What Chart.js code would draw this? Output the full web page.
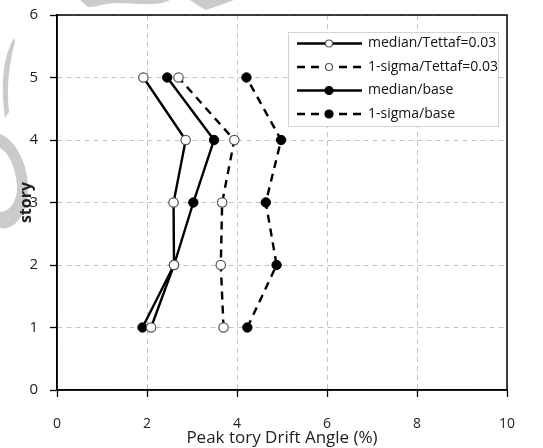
<!DOCTYPE html>
<html>
<head>
<meta charset="utf-8">
<script src="https://cdn.jsdelivr.net/npm/chart.js@4"></script>
<style>
  body { margin: 0; background: #fff; }
  #driftChart { display: block; }
</style>
</head>
<body>
<canvas id="driftChart" width="543" height="448"></canvas>
<script>
// Peak story drift angle per story, two cases (Tettaf = 0.03 and base)
const stories = [1, 2, 3, 4, 5];
const medianTettaf = [2.09, 2.6, 2.59, 2.86, 1.92];
const sigmaTettaf = [3.7, 3.64, 3.67, 3.94, 2.7];
const medianBase = [1.9, 2.6, 3.03, 3.49, 2.45];
const sigmaBase = [4.23, 4.88, 4.64, 4.98, 4.21];

const xTicks = [0, 2, 4, 6, 8, 10];
const yTicks = [0, 1, 2, 3, 4, 5, 6];

const FONT = "'Open Sans', 'DejaVu Sans', sans-serif";

function toPoints(values) {
  return stories.map((s, i) => ({ x: values[i], y: s }));
}

function series(label, values, dashed, filled) {
  return {
    label: label,
    data: toPoints(values),
    borderColor: "#000",
    borderWidth: 2.4,
    borderDash: dashed ? [8, 6] : [],
    pointRadius: 4.7,
    pointBorderWidth: filled ? 1 : 1.2,
    pointBackgroundColor: filled ? "#000" : "#fff",
    pointBorderColor: filled ? "#000" : "#555",
    showLine: true,
    tension: 0,
  };
}

// light grey swirls behind the plot
const backdrop = {
  id: "backdrop",
  beforeDraw(chart) {
    const ctx = chart.ctx;
    ctx.save();
    ctx.fillStyle = "#cbcbcb";
    // top wave
    ctx.beginPath();
    ctx.moveTo(80, 0);
    ctx.lineTo(170, 0);
    ctx.bezierCurveTo(160, 6, 140, 4, 120, 3);
    ctx.bezierCurveTo(105, 2, 95, 8, 88, 7);
    ctx.closePath();
    ctx.fill();
    // top wedge
    ctx.beginPath();
    ctx.moveTo(190, 0);
    ctx.lineTo(234, 0);
    ctx.quadraticCurveTo(218, 6, 206, 10);
    ctx.quadraticCurveTo(198, 6, 190, 0);
    ctx.fill();
    // left swoosh
    ctx.beginPath();
    ctx.moveTo(14, 38);
    ctx.bezierCurveTo(4, 55, 0, 80, 5, 118);
    ctx.lineTo(9, 112);
    ctx.bezierCurveTo(6, 85, 10, 60, 15, 42);
    ctx.closePath();
    ctx.fill();
    // left ring
    ctx.beginPath();
    ctx.moveTo(0, 134);
    ctx.bezierCurveTo(18, 140, 34, 175, 26, 205);
    ctx.bezierCurveTo(20, 225, 8, 230, 0, 228);
    ctx.lineTo(0, 212);
    ctx.bezierCurveTo(10, 212, 18, 200, 17, 185);
    ctx.bezierCurveTo(15, 165, 8, 152, 0, 148);
    ctx.closePath();
    ctx.fill();
    ctx.restore();
  },
};

// full frame around the plot area
const frame = {
  id: "frame",
  afterDatasetsDraw(chart) {
    const { ctx, chartArea: a } = chart;
    ctx.save();
    ctx.strokeStyle = "#000";
    ctx.lineWidth = 1.5;
    ctx.strokeRect(a.left, a.top, a.right - a.left, a.bottom - a.top);
    ctx.restore();
  },
};

// boxed legend inside the plot, line + marker per series
const insetLegend = {
  id: "insetLegend",
  afterDraw(chart) {
    const ctx = chart.ctx;
    const box = { x: 288, y: 32, w: 210, h: 94 };
    ctx.save();
    ctx.fillStyle = "#fff";
    ctx.fillRect(box.x, box.y, box.w, box.h);
    ctx.strokeStyle = "#d4d4d4";
    ctx.lineWidth = 1;
    ctx.strokeRect(box.x + 0.5, box.y + 0.5, box.w, box.h);

    chart.data.datasets.forEach((ds, i) => {
      const y = 43.5 + i * 23.5;
      ctx.strokeStyle = ds.borderColor;
      ctx.lineWidth = ds.borderWidth;
      ctx.setLineDash(ds.borderDash);
      ctx.beginPath();
      ctx.moveTo(297, y);
      ctx.lineTo(362, y);
      ctx.stroke();
      ctx.setLineDash([]);
      ctx.beginPath();
      ctx.arc(329, y, ds.pointBackgroundColor === "#000" ? 4 : 3.5, 0, Math.PI * 2);
      ctx.fillStyle = ds.pointBackgroundColor;
      ctx.fill();
      ctx.lineWidth = 1.2;
      ctx.strokeStyle = ds.pointBorderColor;
      ctx.stroke();
      ctx.fillStyle = "#111";
      ctx.font = "14px " + FONT;
      ctx.textBaseline = "middle";
      ctx.fillText(ds.label, 368, y);
    });
    ctx.restore();
  },
};

const gridStyle = {
  color: "#c4c4c4",
  lineWidth: 1,
  tickLength: 7,
  tickColor: "#000",
  tickWidth: 1.3,
  tickBorderDash: [],
};

new Chart(document.getElementById("driftChart"), {
  type: "line",
  data: {
    datasets: [
      series("median/Tettaf=0.03", medianTettaf, false, false),
      series("1-sigma/Tettaf=0.03", sigmaTettaf, true, false),
      series("median/base", medianBase, false, true),
      series("1-sigma/base", sigmaBase, true, true),
    ],
  },
  options: {
    responsive: false,
    devicePixelRatio: 1,
    animation: false,
    layout: { padding: { top: 15, right: 36, left: 0, bottom: 0 } },
    plugins: {
      legend: { display: false },
      tooltip: { enabled: false },
    },
    scales: {
      x: {
        type: "linear",
        position: "bottom",
        min: 0,
        max: 10,
        afterBuildTicks(scale) {
          scale.ticks = xTicks.map((v) => ({ value: v }));
        },
        afterFit(scale) {
          scale.height = 58;
          scale.paddingLeft = 0;
          scale.paddingRight = 0;
        },
        ticks: {
          padding: 19,
          color: "#222",
          font: { family: FONT, size: 14 },
        },
        grid: gridStyle,
        border: { color: "#000", width: 1.5, dash: [5, 4] },
        title: {
          display: true,
          text: "Peak tory Drift Angle (%)",
          color: "#222",
          font: { family: FONT, size: 17 },
          padding: { top: 0, bottom: 0 },
        },
      },
      y: {
        type: "linear",
        min: 0,
        max: 6,
        afterBuildTicks(scale) {
          scale.ticks = yTicks.map((v) => ({ value: v }));
        },
        afterFit(scale) {
          scale.width = 57;
          scale.paddingTop = 0;
          scale.paddingBottom = 0;
        },
        ticks: {
          padding: 12,
          color: "#222",
          font: { family: FONT, size: 15 },
        },
        grid: gridStyle,
        border: { color: "#000", width: 1.5, dash: [5, 4] },
        title: {
          display: true,
          text: "story",
          color: "#222",
          font: { family: FONT, size: 16, weight: "bold" },
          padding: { top: 17, bottom: 0 },
        },
      },
    },
  },
  plugins: [backdrop, frame, insetLegend],
});
</script>
</body>
</html>
